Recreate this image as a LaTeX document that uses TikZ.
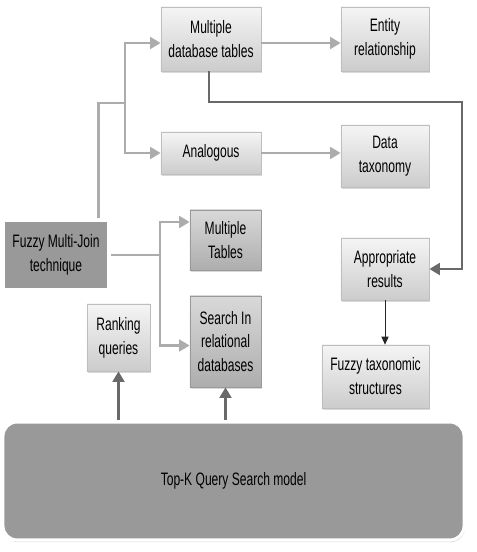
\documentclass[tikz,border=0pt]{standalone}
\usepackage{fontspec}
\setmainfont{Liberation Sans}[FakeStretch=0.67]
\usetikzlibrary{arrows.meta,shadows}
\definecolor{boxedge}{RGB}{190,190,190}
\definecolor{darkfill}{RGB}{153,153,153}
\definecolor{linegray}{RGB}{172,172,172}
\definecolor{darkline}{RGB}{105,105,105}

\begin{document}
\begin{tikzpicture}[
  x=0.025cm,y=-0.025cm,
  font=\fontsize{12.8}{17}\selectfont,
  box/.style={draw=boxedge,line width=.5pt,align=center,inner sep=2pt,
              top color=white!96!black,bottom color=white!80!black,
              drop shadow={opacity=.3,shadow xshift=.4pt,shadow yshift=-1.2pt}},
  midbox/.style={box,draw=gray!80,top color=white!85!black,bottom color=white!68!black},
  dark/.style={draw=white,line width=2.2pt,fill=darkfill,align=center,
              drop shadow={opacity=.3,shadow xshift=.6pt,shadow yshift=-1.5pt}},
  gline/.style={draw=linegray,line width=2.1pt},
  garr/.style={gline,-{Triangle[length=2.6mm,width=2.9mm]}},
  darr/.style={draw=darkline,line width=1.9pt,-{Triangle[length=2.6mm,width=2.9mm]}},
  tarr/.style={draw=black!85,line width=.6pt,-{Triangle[length=2mm,width=1.8mm]}}
]
\useasboundingbox (0,0) rectangle (476,552);
\node[box,minimum width=2.5cm,minimum height=1.6cm] (mdb) at (211,39) {Multiple\\database tables};
\node[box,minimum width=2.2cm,minimum height=1.6cm] (ent) at (385,39) {Entity\\relationship};
\node[box,minimum width=2.5cm,minimum height=1.05cm] (ana) at (211,153) {Analogous};
\node[box,minimum width=2.2cm,minimum height=1.55cm] (dtx) at (385,156) {Data\\taxonomy};
\node[dark,minimum width=2.65cm,minimum height=1.75cm] (fmj) at (56,255) {Fuzzy Multi-Join\\technique};
\node[midbox,minimum width=1.775cm,minimum height=1.5cm] (mtb) at (225.5,240) {Multiple\\Tables};
\node[midbox,minimum width=1.775cm,minimum height=2.275cm] (sir) at (225.5,341.5) {Search In\\relational\\databases};
\node[box,minimum width=1.575cm,minimum height=1.675cm] (rnk) at (118.5,337.5) {Ranking\\queries};
\node[box,minimum width=2.2cm,minimum height=1.55cm] (apr) at (385,269) {Appropriate\\results};
\node[box,minimum width=2.675cm,minimum height=1.575cm] (fts) at (375.5,376.5) {Fuzzy taxonomic\\structures};
\node[dark,rounded corners=10pt,minimum width=11.525cm,minimum height=2.95cm] (topk) at (233.5,481) {Top-K Query Search model};
\coordinate (br1) at (125,103);
\coordinate (br2) at (160,255);
\coordinate (cr) at (462,102);
% upper branch
\draw[gline] ([xshift=-0.3cm]fmj.north east) |- (br1);
\draw[garr] (br1) |- ([yshift=-0.1cm]mdb.west);
\draw[garr] (br1) |- (ana.west);
\draw[garr] ([yshift=-0.1cm]mdb.east) -- ([yshift=-0.1cm]mdb.east -| ent.west);
\draw[garr] (ana.east) -- (ana.east -| dtx.west);
\draw[darr] ([xshift=-0.05cm]mdb.south) |- (cr) |- (apr.east);
% lower branch
\draw[gline] (fmj.east) -- (br2);
\draw[garr] (br2) |- ([yshift=0.45cm]mtb.west);
\draw[garr] (br2) |- ([yshift=-0.1cm]sir.west);
\draw[tarr] (apr.south) -- (apr.south |- fts.north);
\draw[darr] (topk.north -| rnk) -- (rnk.south);
\draw[darr] (topk.north -| sir) -- (sir.south);
\end{tikzpicture}
\end{document}
